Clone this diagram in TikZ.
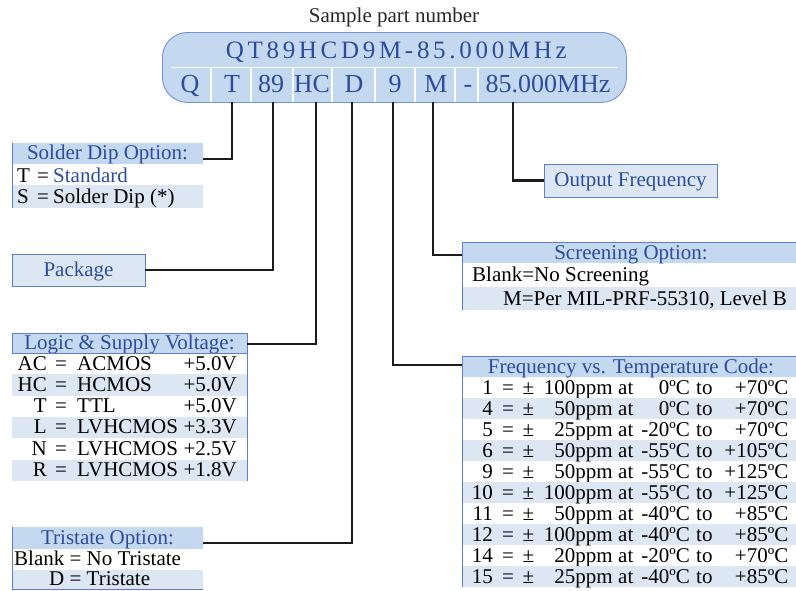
\documentclass[tikz,border=0pt]{standalone}
\usepackage{fontspec}
\setmainfont{Liberation Serif}
\newfontfamily\pnspaced[LetterSpace=14.8]{Liberation Serif}
\definecolor{hdrblue}{HTML}{C4D8EF}
\definecolor{rowblue}{HTML}{DDE7F4}
\definecolor{txtblue}{HTML}{2E4C9A}
\definecolor{bordblue}{HTML}{5F7FC4}
\definecolor{linegray}{HTML}{1C1C1C}
\newcommand\tfnt{\fontsize{21}{24}\selectfont}
\tikzset{
  conn/.style={draw=linegray, line width=2.7pt},
  bord/.style={draw=bordblue, line width=0.8pt},
  hdr/.style={fill=hdrblue, text=txtblue, font=\tfnt, inner sep=0pt, outer sep=0pt,
              text height=15pt, text depth=3pt, anchor=north west},
  rhdr/.style={hdr, text depth=1pt},
  box/.style={fill=rowblue, draw=bordblue, line width=0.8pt, text=txtblue, font=\tfnt,
              inner sep=0pt, outer sep=0pt, text height=15pt, text depth=3pt, anchor=north west},
  rowtxt/.style={font=\tfnt, inner sep=0pt, anchor=base west},
  rowr/.style={font=\tfnt, inner sep=0pt, anchor=base east},
  rowc/.style={font=\tfnt, inner sep=0pt, anchor=base},
  cell/.style={font=\fontsize{26}{30}\selectfont, text=txtblue, inner sep=0pt, anchor=base},
}
\begin{document}
\begin{tikzpicture}[x=1pt,y=-1pt]
\useasboundingbox (0,0) rectangle (796,590);
\clip (0,0) rectangle (796,590);

% title
\node[font=\tfnt, text=black!85, inner sep=0pt, anchor=base] (title) at (394,22) {Sample part number};

% part number box
\node[draw=bordblue!85, fill=hdrblue, rounded corners=25pt, minimum width=464pt, minimum height=70pt,
      inner sep=0pt, line width=0.9pt, anchor=north west] (pn) at (162,32) {};
\draw[white, line width=1.8pt] (171,67.5) -- (617,67.5);
\foreach \xx in {211,251,293,332,375,415,455,478}
  \draw[white, line width=1.8pt] (\xx,68) -- (\xx,101.5);
\node[font=\pnspaced\fontsize{25}{30}\selectfont, text=txtblue, inner sep=0pt, anchor=base] (pntop) at (396.3,58) {QT89HCD9M-85.000MHz};
\node[cell] (cQ) at (190,92.5) {Q};
\node[cell] (cT) at (232,92.5) {T};
\node[cell] (c89) at (271,92.5) {89};
\node[cell] (cHC) at (312,92.5) {HC};
\node[cell] (cD) at (354,92.5) {D};
\node[cell] (c9) at (395,92.5) {9};
\node[cell] (cM) at (436,92.5) {M};
\node[cell] (cDash) at (468,92.5) {-};
\node[cell] (cFreq) at (548,92.5) {85.000MHz};

% ---------- Solder Dip Option
\node[hdr, minimum width=191pt, minimum height=21pt] (sdH) at (12,143) {Solder Dip Option:};
\fill[rowblue] (12,185) rectangle (203,208);
\draw[bord] (12,143) -- (12,208);
\node[rowtxt] (sd1c) at (17,182.5) {T};
\node[rowtxt] (sd1e) at (37,182.5) {=};
\node[rowtxt, text=txtblue] (sd1v) at (53,182.5) {Standard};
\node[rowtxt] (sd2c) at (17,203) {S};
\node[rowtxt] (sd2e) at (37,203) {=};
\node[rowtxt] (sd2v) at (53,203) {Solder Dip (*)};

% ---------- Package
\node[box, minimum width=133pt, minimum height=32pt] (pkg) at (12,254) {Package};

% ---------- Logic & Supply Voltage
\node[hdr, minimum width=235pt, minimum height=20pt] (lgH) at (12,333) {Logic \& Supply Voltage:};
\foreach \cd/\nm/\vv [count=\i] in {AC/ACMOS/+5.0V, HC/HCMOS/+5.0V, T/TTL/+5.0V,
                                     L/LVHCMOS/+3.3V, N/LVHCMOS/+2.5V, R/LVHCMOS/+1.8V}{
  \pgfmathsetmacro\rt{353+21.3*(\i-1)}
  \ifodd\i\else \fill[rowblue] (12,\rt) rectangle (247,\rt+21.3); \fi
  \node[rowr] (lc\i) at (47,\rt+17) {\cd};
  \node[rowc] (le\i) at (61,\rt+17) {=};
  \node[rowtxt] (ln\i) at (77,\rt+17) {\nm};
  \node[rowr] (lv\i) at (237,\rt+17) {\vv};
}
\draw[bord] (12,333) rectangle (247,353);
\draw[bord] (247,353) -- (247,481);

% ---------- Tristate Option
\node[hdr, minimum width=191pt, minimum height=22pt] (tsH) at (12,527) {Tristate Option:};
\fill[rowblue] (12,570) rectangle (203,590);
\draw[bord] (12,527) -- (12,589.5) -- (203,589.5);
\node[rowtxt] (ts1) at (14,565.5) {Blank = No Tristate};
\node[rowtxt] (ts2) at (49,585.5) {D = Tristate};

% ---------- Output Frequency
\node[box, minimum width=173pt, minimum height=33pt] (of) at (544,164) {Output Frequency};

% ---------- Screening Option
\node[rhdr, minimum width=338pt, minimum height=21pt] (scH) at (462,242) {Screening Option:};
\fill[rowblue] (462,287) rectangle (800,310);
\draw[bord] (462,310) -- (462,242) -- (800,242);
\node[rowtxt] (sc1) at (472,281.5) {Blank=No Screening};
\node[rowtxt] (sc2) at (503,305) {M=Per MIL-PRF-55310, Level B};

% ---------- Frequency vs. Temperature Code
\node[rhdr, minimum width=338pt, minimum height=21pt] (ftH) at (462,356) {Frequency vs. Temperature Code:};
\foreach \cd/\am/\lo/\hi [count=\i] in {1/100/0/+70, 4/50/0/+70, 5/25/-20/+70, 6/50/-55/+105,
      9/50/-55/+125, 10/100/-55/+125, 11/50/-40/+85, 12/100/-40/+85, 14/20/-20/+70, 15/25/-40/+85}{
  \pgfmathsetmacro\rt{377+21*(\i-1)}
  \ifodd\i\else \fill[rowblue] (462,\rt) rectangle (800,\rt+21); \fi
  \node[rowr] (fc\i) at (493,\rt+17.5) {\cd};
  \node[rowc] (fe\i) at (508,\rt+17.5) {=};
  \node[rowc] (fp\i) at (528.5,\rt+17.5) {±};
  \node[rowr] (fa\i) at (613,\rt+17.5) {{\am}ppm};
  \node[rowtxt] (ft\i) at (618,\rt+17.5) {at};
  \node[rowr] (fl\i) at (690,\rt+17.5) {{\lo}ºC};
  \node[rowtxt] (fo\i) at (696,\rt+17.5) {to};
  \node[rowr] (fh\i) at (788.5,\rt+17.5) {{\hi}ºC};
}
\draw[bord] (462,587) -- (462,356) -- (800,356);

% ---------- connectors
\coordinate (sT) at (232,102);
\coordinate (s89) at (273,102);
\coordinate (sHC) at (316,102);
\coordinate (sD) at (352,102);
\coordinate (s9) at (393,102);
\coordinate (sM) at (433,102);
\coordinate (sF) at (513,102);
\coordinate (eT) at (203,159);
\coordinate (eHC) at (247,344);
\coordinate (eD) at (203,543);
\coordinate (e9) at (462,365);
\coordinate (eM) at (462,255);

\draw[conn] (sT) |- (eT);
\draw[conn] (s89) |- (pkg.east);
\draw[conn] (sHC) |- (eHC);
\draw[conn] (sD) |- (eD);
\draw[conn] (s9) |- (e9);
\draw[conn] (sM) |- (eM);
\draw[conn] (sF) |- (of.west);
\end{tikzpicture}
\end{document}
